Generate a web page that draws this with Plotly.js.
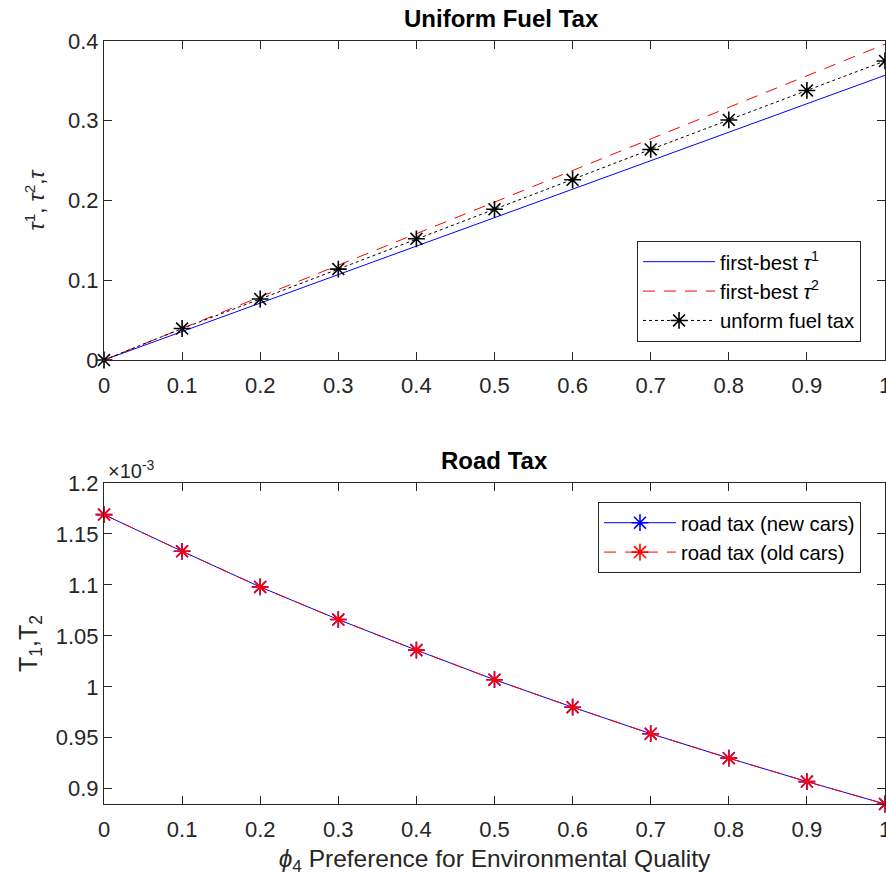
<!DOCTYPE html>
<html>
<head>
<meta charset="utf-8">
<script src="https://cdn.plot.ly/plotly-3.0.1.min.js"></script>
<style>html,body{margin:0;padding:0;background:#fff;}#chart{width:886px;height:879px;}</style>
</head>
<body>
<div id="chart"></div>
<script>
// ---- data ----
const phi = [0, 0.1, 0.2, 0.3, 0.4, 0.5, 0.6, 0.7, 0.8, 0.9, 1.0];
const tau1 = [0, 0.0357, 0.0714, 0.1071, 0.1428, 0.1785, 0.2142, 0.2499, 0.2856, 0.3213, 0.357];
const tau2 = [0, 0.0396, 0.0792, 0.1188, 0.1584, 0.198, 0.2376, 0.2772, 0.3168, 0.3564, 0.396];
const uniformTax = [0, 0.0395, 0.0765, 0.114, 0.152, 0.189, 0.226, 0.264, 0.301, 0.338, 0.375];
const roadNew = [0.001169, 0.001133, 0.001098, 0.001066, 0.001036, 0.001007, 0.000980, 0.000954, 0.000930, 0.000907, 0.000885];
const roadOld = [0.001169, 0.001133, 0.001098, 0.001066, 0.001036, 0.001007, 0.000980, 0.000954, 0.000930, 0.000907, 0.000885];
const xTicks = [0, 0.1, 0.2, 0.3, 0.4, 0.5, 0.6, 0.7, 0.8, 0.9, 1];
const xTickLabels = ['0','0.1','0.2','0.3','0.4','0.5','0.6','0.7','0.8','0.9','1'];
const yTopTicks = [0, 0.1, 0.2, 0.3, 0.4];
const yTopTickLabels = ['0','0.1','0.2','0.3','0.4'];
const yBotTicks = [0.0009, 0.00095, 0.001, 0.00105, 0.0011, 0.00115, 0.0012];
const yBotTickLabels = ['0.9','0.95','1','1.05','1.1','1.15','1.2'];

const FONT = 'Liberation Sans, Arial, Helvetica, sans-serif';
const AX = '#262626';

const common = {
  showline: true, mirror: 'ticks', linecolor: AX, linewidth: 1,
  ticks: 'inside', ticklen: 8, tickwidth: 1, tickcolor: AX,
  showgrid: false, zeroline: false, ticklabeloverflow: 'allow',
  tickfont: {family: FONT, size: 22, color: AX}
};

const starMarker = c => ({symbol: 'asterisk-open', size: 14, color: c, line: {color: c, width: 1.6}});

const traces = [
  {x: phi, y: tau1, type: 'scatter', mode: 'lines', name: 'first-best <i>τ</i><sup>1</sup>',
   line: {color: '#0000ff', width: 1}, xaxis: 'x', yaxis: 'y', legend: 'legend', cliponaxis: false},
  {x: phi, y: tau2, type: 'scatter', mode: 'lines', name: 'first-best <i>τ</i><sup>2</sup>',
   line: {color: '#ff0000', width: 1, dash: '12px,9px'}, xaxis: 'x', yaxis: 'y', legend: 'legend', cliponaxis: false},
  {x: phi, y: uniformTax, type: 'scatter', mode: 'lines+markers', name: 'unform fuel tax',
   line: {color: '#000000', width: 1, dash: 'dot'}, marker: starMarker('#000000'),
   xaxis: 'x', yaxis: 'y', legend: 'legend', cliponaxis: false},
  {x: phi, y: roadNew, type: 'scatter', mode: 'lines+markers', name: 'road tax (new cars)',
   line: {color: '#0000ff', width: 1}, marker: starMarker('#0000ff'),
   xaxis: 'x2', yaxis: 'y2', legend: 'legend2', cliponaxis: false},
  {x: phi, y: roadOld, type: 'scatter', mode: 'lines+markers', name: 'road tax (old cars)',
   line: {color: '#ff0000', width: 1, dash: '12px,9px'}, marker: starMarker('#ff0000'),
   xaxis: 'x2', yaxis: 'y2', legend: 'legend2', cliponaxis: false}
];

const layout = {
  width: 886, height: 879,
  margin: {l: 104, r: 1, t: 41, b: 75},
  paper_bgcolor: '#ffffff', plot_bgcolor: '#ffffff',
  font: {family: FONT, color: AX},
  xaxis: Object.assign({}, common, {domain: [0, 1], range: [0, 1], anchor: 'y',
    tickvals: xTicks, ticktext: xTickLabels, ticklabelstandoff: 6}),
  yaxis: Object.assign({}, common, {domain: [0.5819, 1], range: [0, 0.4], anchor: 'x',
    tickvals: yTopTicks, ticktext: yTopTickLabels,
    title: {text: '<i>τ</i><sup>1</sup>, <i>τ</i><sup>2</sup>,<i>τ</i>', font: {family: FONT, size: 22, color: AX}, standoff: 17}}),
  xaxis2: Object.assign({}, common, {domain: [0, 1], range: [0, 1], anchor: 'y2',
    tickvals: xTicks, ticktext: xTickLabels, ticklabelstandoff: 6,
    title: {text: '<i>ϕ</i><sub>4</sub> Preference for Environmental Quality', font: {family: FONT, size: 24.5, color: AX}, standoff: 8}}),
  yaxis2: Object.assign({}, common, {domain: [0, 0.4207], range: [0.000885, 0.0012], anchor: 'x2',
    tickvals: yBotTicks, ticktext: yBotTickLabels,
    title: {text: 'T<sub>1</sub>,T<sub>2</sub>', font: {family: FONT, size: 25, color: AX}, standoff: 11}}),
  showlegend: true,
  legend: {x: 0.6825, y: 0.7379, xanchor: 'left', yanchor: 'top', xref: 'paper', yref: 'paper',
    bgcolor: '#ffffff', bordercolor: AX, borderwidth: 1, itemwidth: 72,
    font: {family: FONT, size: 20.3, color: '#000000'}, tracegroupgap: 0},
  legend2: {x: 0.6325, y: 0.3958, xanchor: 'left', yanchor: 'top', xref: 'paper', yref: 'paper',
    bgcolor: '#ffffff', bordercolor: AX, borderwidth: 1, itemwidth: 72,
    font: {family: FONT, size: 20.3, color: '#000000'}, tracegroupgap: 0},
  annotations: [
    {text: '<b>Uniform Fuel Tax</b>', xref: 'paper', yref: 'paper', x: 0.509, y: 1, yshift: 7,
     xanchor: 'center', yanchor: 'bottom', showarrow: false, font: {family: FONT, size: 24, color: '#000000'}},
    {text: '<b>Road Tax</b>', xref: 'paper', yref: 'paper', x: 0.5, y: 0.4207, yshift: 7,
     xanchor: 'center', yanchor: 'bottom', showarrow: false, font: {family: FONT, size: 24, color: '#000000'}},
    {text: '×10<sup>-3</sup>', xref: 'paper', yref: 'paper', x: 0, y: 0.4207, xshift: 2, yshift: -1,
     xanchor: 'left', yanchor: 'bottom', showarrow: false, font: {family: FONT, size: 20, color: AX}}
  ]
};

Plotly.newPlot('chart', traces, layout, {displayModeBar: false, staticPlot: true});
</script>
</body>
</html>
